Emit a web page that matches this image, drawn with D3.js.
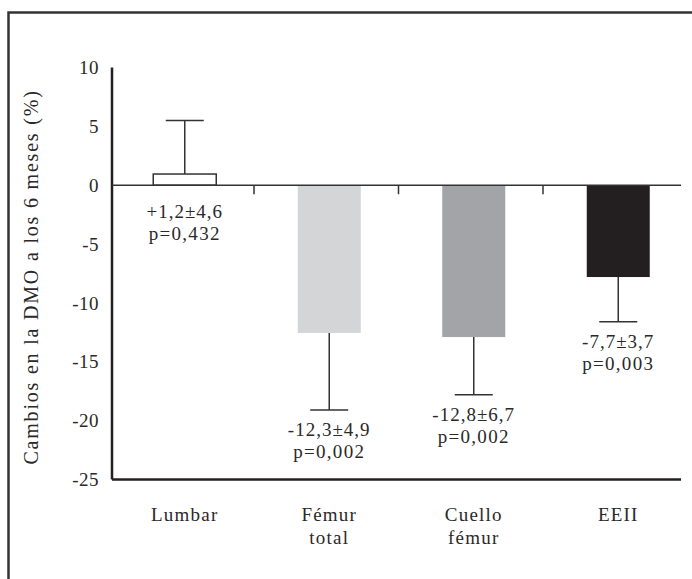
<!DOCTYPE html>
<html>
<head>
<meta charset="utf-8">
<script src="https://cdn.jsdelivr.net/npm/d3@7"></script>
<style>
  body { margin: 0; background: #fff; }
  text { font-family: "Liberation Serif", serif; fill: #2b2829; }
</style>
</head>
<body>
<div id="chart"></div>
<script>
// data
var categories = ["Lumbar", "Fémur total", "Cuello fémur", "EEII"];
var labelLines = [["Lumbar"], ["Fémur", "total"], ["Cuello", "fémur"], ["EEII"]];
var barValues = [0.95, -12.55, -12.9, -7.8];
var errorEnds = [5.5, -19.1, -17.8, -11.6];
var statText = ["+1,2±4,6", "-12,3±4,9", "-12,8±6,7", "-7,7±3,7"];
var pText = ["p=0,432", "p=0,002", "p=0,002", "p=0,003"];
var barColors = ["#ffffff", "#d4d5d7", "#a3a4a8", "#231f20"];
var yTicks = [10, 5, 0, -5, -10, -15, -20, -25];

var svgWidth = 692;
var svgHeight = 579;

var svg = d3.select("#chart")
  .append("svg")
  .attr("width", svgWidth)
  .attr("height", svgHeight);

// outer frame (runs off the right and bottom edge)
svg.append("rect")
  .attr("x", 8.5)
  .attr("y", 12.5)
  .attr("width", 720)
  .attr("height", 620)
  .attr("fill", "none")
  .attr("stroke", "#333")
  .attr("stroke-width", 2.5);

var axisX = 112;
var lineEnd = 681;

var xScale = d3.scaleBand()
  .domain(categories)
  .range([112.5, 690.5]);

var yScale = d3.scaleLinear()
  .domain([-25, 10])
  .range([479.5, 67.5]);

var barW = 63;

// y axis: line + labels, no tick marks
var leftAxis = d3.axisLeft(yScale)
  .tickValues(yTicks)
  .tickSize(0)
  .tickPadding(13)
  .tickFormat(d => String(d));

var yAxis = svg.append("g")
  .attr("transform", `translate(${axisX}, 0)`)
  .call(leftAxis);
yAxis.attr("font-family", null);
yAxis.select(".domain")
  .attr("stroke", "#231f20")
  .attr("stroke-width", 2.5)
  .attr("d", `M0,${yScale(10)}V${yScale(-25)}`);
yAxis.selectAll("text")
  .attr("font-size", "19px")
  .attr("letter-spacing", "0.5px")
  .attr("fill", "#2b2829");

// bottom line at -25
svg.append("line")
  .attr("x1", axisX)
  .attr("x2", lineEnd)
  .attr("y1", yScale(-25))
  .attr("y2", yScale(-25))
  .attr("stroke", "#231f20")
  .attr("stroke-width", 2.5);

// bars
svg.selectAll(".bar")
  .data(categories)
  .enter()
  .append("rect")
  .attr("class", "bar")
  .attr("x", d => xScale(d) + xScale.bandwidth() / 2 - barW / 2)
  .attr("y", (d, i) => yScale(Math.max(0, barValues[i])))
  .attr("width", barW)
  .attr("height", (d, i) => Math.abs(yScale(barValues[i]) - yScale(0)))
  .attr("fill", (d, i) => barColors[i])
  .attr("stroke", (d, i) => i === 0 ? "#333" : "none")
  .attr("stroke-width", 1.5);

// zero line with category ticks
svg.append("line")
  .attr("x1", axisX)
  .attr("x2", lineEnd)
  .attr("y1", yScale(0))
  .attr("y2", yScale(0))
  .attr("stroke", "#333")
  .attr("stroke-width", 1.5);

svg.selectAll(".cattick")
  .data(categories.slice(1))
  .enter()
  .append("line")
  .attr("x1", d => xScale(d) - 3)
  .attr("x2", d => xScale(d) - 3)
  .attr("y1", yScale(0))
  .attr("y2", yScale(0) + 9)
  .attr("stroke", "#333")
  .attr("stroke-width", 1.5);

// error bars
var errG = svg.selectAll(".err")
  .data(categories)
  .enter()
  .append("g")
  .attr("class", "err");

errG.append("line")
  .attr("x1", d => xScale(d) + xScale.bandwidth() / 2)
  .attr("x2", d => xScale(d) + xScale.bandwidth() / 2)
  .attr("y1", (d, i) => yScale(barValues[i]))
  .attr("y2", (d, i) => yScale(errorEnds[i]))
  .attr("stroke", "#333")
  .attr("stroke-width", 1.5);

errG.append("line")
  .attr("x1", d => xScale(d) + xScale.bandwidth() / 2 - 19)
  .attr("x2", d => xScale(d) + xScale.bandwidth() / 2 + 19)
  .attr("y1", (d, i) => yScale(errorEnds[i]))
  .attr("y2", (d, i) => yScale(errorEnds[i]))
  .attr("stroke", "#333")
  .attr("stroke-width", 1.5);

// value labels
function labelY(i) {
  return errorEnds[i] < 0 ? yScale(errorEnds[i]) + 26 : yScale(0) + 33;
}

errG.append("text")
  .attr("x", d => xScale(d) + xScale.bandwidth() / 2)
  .attr("y", (d, i) => labelY(i))
  .attr("text-anchor", "middle")
  .attr("font-size", "19px")
  .attr("letter-spacing", "1px")
  .text((d, i) => statText[i]);

errG.append("text")
  .attr("x", d => xScale(d) + xScale.bandwidth() / 2)
  .attr("y", (d, i) => labelY(i) + 22)
  .attr("text-anchor", "middle")
  .attr("font-size", "19px")
  .attr("letter-spacing", "1.3px")
  .text((d, i) => pText[i]);

// category labels
var catG = svg.selectAll(".cat")
  .data(categories)
  .enter()
  .append("text")
  .attr("class", "cat")
  .attr("text-anchor", "middle")
  .attr("font-size", "19px")
  .attr("letter-spacing", "1.2px");

catG.selectAll("tspan")
  .data((d, i) => labelLines[i].map(t => ({ t: t, x: xScale(d) + xScale.bandwidth() / 2 })))
  .enter()
  .append("tspan")
  .attr("x", d => d.x)
  .attr("y", (d, j) => 521 + j * 23)
  .text(d => d.t);

// y axis title
svg.append("text")
  .attr("transform", `translate(38, 277) rotate(-90)`)
  .attr("text-anchor", "middle")
  .attr("font-size", "20px")
  .attr("letter-spacing", "1.8px")
  .text("Cambios en la DMO a los 6 meses (%)");
</script>
</body>
</html>
